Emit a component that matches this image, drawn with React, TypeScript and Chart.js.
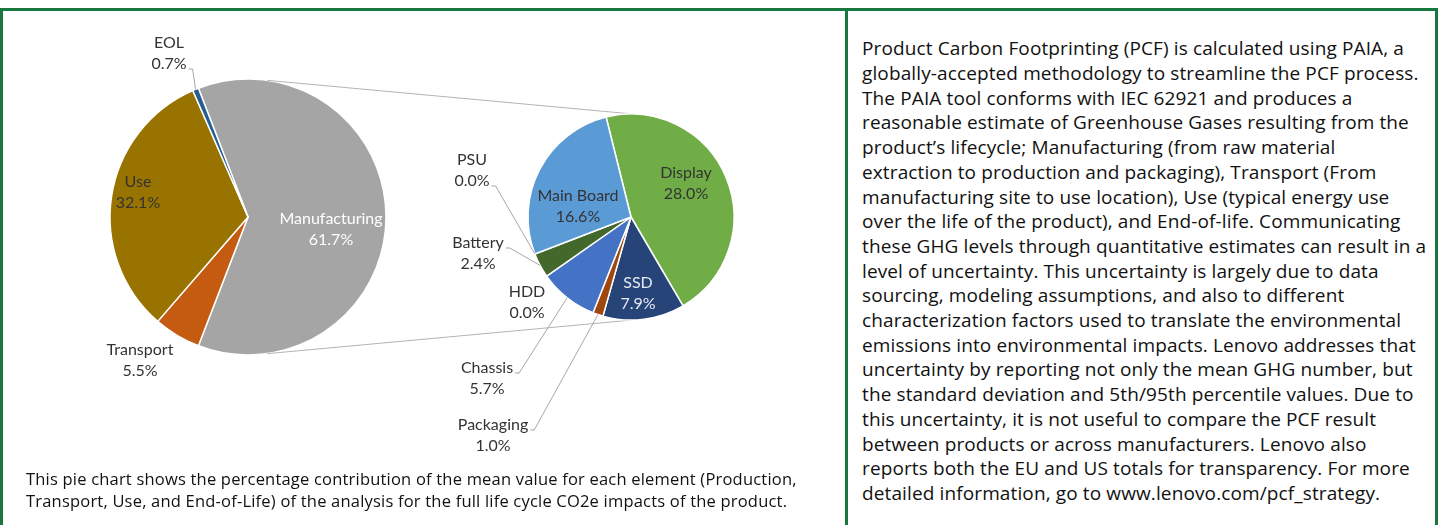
import React, { useEffect, useRef } from "react";
import { Chart, registerables } from "chart.js";

Chart.register(...registerables);

// ---------- data ----------
const mainLabels = ["Manufacturing", "Transport", "Use", "EOL"];
const mainValues = [61.7, 5.5, 32.1, 0.7];
const mainColors = ["#a5a5a5", "#c55a11", "#997300", "#255e91"];

const subLabels = ["Display", "SSD", "Packaging", "Chassis", "HDD", "Battery", "PSU", "Main Board"];
const subValues = [28.0, 7.9, 1.0, 5.7, 0.0, 2.4, 0.0, 16.6];
const subColors = ["#70ad47", "#264478", "#9e480e", "#4472c4", "#636363", "#43682b", "#997300", "#5b9bd5"];

const captionLines = [
  "This pie chart shows the percentage contribution of the mean value for each element (Production,",
  "Transport, Use, and End-of-Life) of the analysis for the full life cycle CO2e impacts of the product.",
];

const infoLines = [
  "Product Carbon Footprinting (PCF) is calculated using PAIA, a",
  "globally-accepted methodology to streamline the PCF process.",
  "The PAIA tool conforms with IEC 62921 and produces a",
  "reasonable estimate of Greenhouse Gases resulting from the",
  "product\u2019s lifecycle; Manufacturing (from raw material",
  "extraction to production and packaging), Transport (From",
  "manufacturing site to use location), Use (typical energy use",
  "over the life of the product), and End-of-life. Communicating",
  "these GHG levels through quantitative estimates can result in a",
  "level of uncertainty. This uncertainty is largely due to data",
  "sourcing, modeling assumptions, and also to different",
  "characterization factors used to translate the environmental",
  "emissions into environmental impacts. Lenovo addresses that",
  "uncertainty by reporting not only the mean GHG number, but",
  "the standard deviation and 5th/95th percentile values. Due to",
  "this uncertainty, it is not useful to compare the PCF result",
  "between products or across manufacturers. Lenovo also",
  "reports both the EU and US totals for transparency. For more",
  "detailed information, go to www.lenovo.com/pcf_strategy.",
];

// ---------- layout / style ----------
const GREEN = "#17773f";
const LABEL_FONT = "16px Lato";
const LABEL_COLOR = "#333333";
const LINE_GAP = 21;

type LabelLayout = { dx: number; dy: number; color?: string; leaderLine?: number };

const mainLabelLayout: Record<string, LabelLayout> = {
  EOL: { dx: -79, dy: -174, leaderLine: 1 },
  Use: { dx: -110, dy: -35 },
  Manufacturing: { dx: 83, dy: 2, color: "#ffffff" },
  Transport: { dx: -108, dy: 133 },
};

const subLabelLayout: Record<string, LabelLayout> = {
  PSU: { dx: -159, dy: -57, leaderLine: 1 },
  "Main Board": { dx: -53, dy: -21 },
  Display: { dx: 55, dy: -44 },
  Battery: { dx: -153, dy: 26, leaderLine: 0 },
  HDD: { dx: -104, dy: 75 },
  SSD: { dx: 7, dy: 66, color: "#e6eaf2" },
  Chassis: { dx: -144, dy: 151, leaderLine: 0 },
  Packaging: { dx: -138, dy: 208, leaderLine: 0 },
};

function makeLabelPlugin(layout: Record<string, LabelLayout>) {
  return {
    id: "pieLabels",
    afterDatasetsDraw(chart: any) {
      const ctx = chart.ctx;
      const meta = chart.getDatasetMeta(0);
      const labels = chart.data.labels as string[];
      const values = chart.data.datasets[0].data as number[];
      ctx.save();
      ctx.font = LABEL_FONT;
      ctx.textAlign = "center";
      ctx.textBaseline = "middle";
      meta.data.forEach((arc: any, i: number) => {
        const p = arc.getProps(["x", "y", "startAngle", "endAngle", "outerRadius"], true);
        const name = labels[i];
        const lay = layout[name];
        if (!lay) return;
        const tx = p.x + lay.dx;
        const ty = p.y + lay.dy;
        const pct = values[i].toFixed(1) + "%";
        ctx.fillStyle = lay.color || LABEL_COLOR;
        ctx.fillText(name, tx, ty);
        ctx.fillText(pct, tx, ty + LINE_GAP);
        if (lay.leaderLine !== undefined) {
          const txt = lay.leaderLine === 0 ? name : pct;
          const w = ctx.measureText(txt).width;
          const sx = tx + w / 2 + 2;
          const sy = ty + lay.leaderLine * LINE_GAP + 5;
          const mid = (p.startAngle + p.endAngle) / 2;
          const ex = p.x + Math.cos(mid) * p.outerRadius;
          const ey = p.y + Math.sin(mid) * p.outerRadius;
          ctx.strokeStyle = "#a6a6a6";
          ctx.lineWidth = 1;
          ctx.beginPath();
          ctx.moveTo(sx, sy);
          ctx.lineTo(sx + 4, sy);
          ctx.lineTo(ex, ey);
          ctx.stroke();
        }
      });
      ctx.restore();
    },
  };
}

function pieConfig(labels: string[], values: number[], colors: string[], radius: number, rotation: number, padding: any, plugins: any[]) {
  return {
    type: "pie" as const,
    data: {
      labels,
      datasets: [
        {
          data: values,
          backgroundColor: colors,
          borderColor: "#ffffff",
          borderWidth: 1.5,
          radius,
        },
      ],
    },
    options: {
      animation: false as const,
      responsive: false,
      rotation,
      layout: { padding },
      plugins: { legend: { display: false }, tooltip: { enabled: false } },
      events: [],
    },
    plugins,
  };
}

export default function App() {
  const leftRef = useRef<HTMLCanvasElement>(null);
  const rightRef = useRef<HTMLCanvasElement>(null);

  useEffect(() => {
    const mainTotal = mainValues.reduce((a, b) => a + b, 0);
    const mainSpan = (mainValues[0] / mainTotal) * 360;
    const mainRotation = 90 - mainSpan / 2;

    const left = new Chart(
      leftRef.current as HTMLCanvasElement,
      pieConfig(mainLabels, mainValues, mainColors, 138, mainRotation, { left: 108, right: 457, top: 77, bottom: 168 }, [makeLabelPlugin(mainLabelLayout)]) as any
    );

    const connectorPlugin = {
      id: "connectors",
      beforeDatasetsDraw(chart: any) {
        const lm = left.getDatasetMeta(0).data[0] as any;
        const rm = chart.getDatasetMeta(0).data[0] as any;
        if (!lm || !rm) return;
        const a = lm.getProps(["x", "y", "outerRadius"], true);
        const b = rm.getProps(["x", "y", "outerRadius"], true);
        const la = (8 * Math.PI) / 180;
        const ra = (1 * Math.PI) / 180;
        const ctx = chart.ctx;
        ctx.save();
        ctx.strokeStyle = "#b4b4b4";
        ctx.lineWidth = 1;
        ctx.beginPath();
        ctx.moveTo(a.x + Math.sin(la) * a.outerRadius, a.y - Math.cos(la) * a.outerRadius);
        ctx.lineTo(b.x + Math.sin(ra) * b.outerRadius, b.y - Math.cos(ra) * b.outerRadius);
        ctx.moveTo(a.x + Math.sin(la) * a.outerRadius, a.y + Math.cos(la) * a.outerRadius);
        ctx.lineTo(b.x + Math.sin(ra) * b.outerRadius, b.y + Math.cos(ra) * b.outerRadius);
        ctx.stroke();
        ctx.restore();
      },
    };

    const right = new Chart(
      rightRef.current as HTMLCanvasElement,
      pieConfig(subLabels, subValues, subColors, 103, -14, { left: 521, right: 104, top: 107, bottom: 198 }, [connectorPlugin, makeLabelPlugin(subLabelLayout)]) as any
    );

    return () => {
      right.destroy();
      left.destroy();
    };
  }, []);

  const abs = (s: React.CSSProperties): React.CSSProperties => ({ position: "absolute", ...s });

  return (
    <div style={abs({ left: 0, top: 0, width: 1443, height: 525, background: "#ffffff", overflow: "hidden" })}>
      <div style={abs({ left: 0, top: 8, width: 1438, height: 3, background: GREEN })} />
      <div style={abs({ left: 0, top: 8, width: 3, height: 517, background: GREEN })} />
      <div style={abs({ left: 845, top: 8, width: 3, height: 517, background: GREEN })} />
      <div style={abs({ left: 1435, top: 8, width: 3, height: 517, background: GREEN })} />
      <canvas ref={leftRef} width={845} height={525} style={abs({ left: 0, top: 0, width: 845, height: 525 })} />
      <canvas ref={rightRef} width={845} height={525} style={abs({ left: 0, top: 0, width: 845, height: 525 })} />
      <div style={abs({ left: 26, top: 467.5, fontFamily: "Open Sans", fontSize: 16.5, letterSpacing: "0.2px", lineHeight: "22px", color: "#111", whiteSpace: "nowrap" })}>
        {captionLines.map((l, i) => (
          <div key={i}>{l}</div>
        ))}
      </div>
      <div style={abs({ left: 862, top: 36.3, fontFamily: "Open Sans", fontSize: 19, letterSpacing: "0.12px", lineHeight: "24.7px", color: "#111", whiteSpace: "nowrap" })}>
        {infoLines.map((l, i) => (
          <div key={i}>{l}</div>
        ))}
      </div>
    </div>
  );
}
